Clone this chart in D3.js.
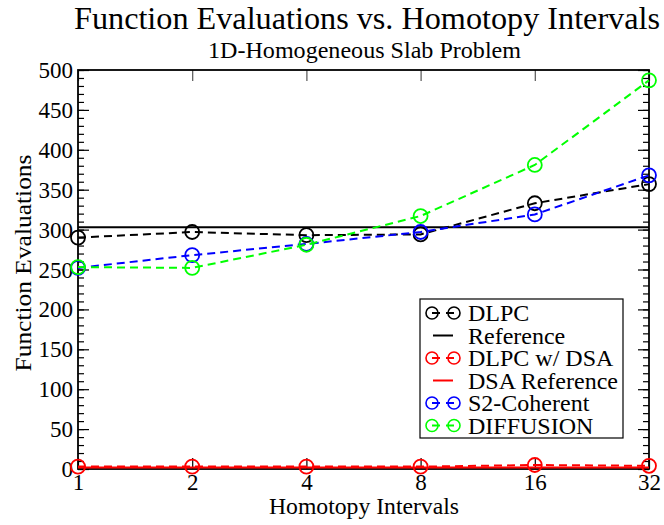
<!DOCTYPE html>
<html>
<head>
<meta charset="utf-8">
<script src="https://cdn.jsdelivr.net/npm/d3@7"></script>
<style>
  body { margin: 0; background: #fff; }
</style>
</head>
<body>
<div id="chart"></div>
<script>
// homotopy intervals (x)
var intervals = [1, 2, 4, 8, 16, 32]

// function evaluations per method
var dlpc      = [290, 297, 293, 294, 333, 357]
var dlpcDsa   = [3, 3, 3, 3, 5, 4]
var s2coh     = [252, 268, 282, 297, 319, 368]
var diffusion = [253, 252, 281, 317, 381, 487]

// reference values (horizontal lines)
var reference    = 303
var dsaReference = 2

var yTicks = [0, 50, 100, 150, 200, 250, 300, 350, 400, 450, 500]

var series = [
  {name: "DLPC", values: dlpc, color: "#000000", marker: true},
  {name: "Reference", ref: reference, color: "#000000", marker: false},
  {name: "DLPC w/ DSA", values: dlpcDsa, color: "#ff0000", marker: true},
  {name: "DSA Reference", ref: dsaReference, color: "#ff0000", marker: false},
  {name: "S2-Coherent", values: s2coh, color: "#0000ff", marker: true},
  {name: "DIFFUSION", values: diffusion, color: "#00ff00", marker: true}
]

var W = 664, H = 525
var margin = {left: 78, right: 649, top: 70, bottom: 469}
var serif = "'Liberation Serif', 'Times New Roman', serif"

var svg = d3.select("#chart").append("svg")
    .attr("width", W)
    .attr("height", H)

var x = d3.scaleLog().base(2)
    .domain([1, 32])
    .range([margin.left, margin.right])

var y = d3.scaleLinear()
    .domain([0, 500])
    .range([margin.bottom, margin.top])

// titles
svg.append("text")
    .attr("x", 74).attr("y", 29)
    .attr("textLength", 586)
    .attr("lengthAdjust", "spacingAndGlyphs")
    .style("font-family", serif)
    .style("font-size", "32px")
    .text("Function Evaluations vs. Homotopy Intervals")

svg.append("text")
    .attr("x", 208).attr("y", 58)
    .attr("textLength", 313)
    .attr("lengthAdjust", "spacingAndGlyphs")
    .style("font-family", serif)
    .style("font-size", "23px")
    .text("1D-Homogeneous Slab Problem")

// minor y ticks, both sides
var minor = d3.range(0, 501, 10)
svg.append("g")
    .attr("transform", "translate(" + margin.left + ",0)")
    .call(d3.axisLeft(y).tickValues(minor).tickSize(-6).tickFormat(""))
svg.append("g")
    .attr("transform", "translate(" + margin.right + ",0)")
    .call(d3.axisRight(y).tickValues(minor).tickSize(-6).tickFormat(""))

// major y ticks
var yAxis = svg.append("g")
    .attr("class", "y-axis")
    .attr("transform", "translate(" + margin.left + ",0)")
    .call(d3.axisLeft(y).tickValues(yTicks).tickSize(-11).tickPadding(5))
yAxis.selectAll("text")
    .style("font-family", serif)
    .style("font-size", "23px")
    .attr("dy", "0.33em")

svg.append("g")
    .attr("transform", "translate(" + margin.right + ",0)")
    .call(d3.axisRight(y).tickValues(yTicks).tickSize(-11).tickFormat(""))

// x ticks, bottom and top
var xAxis = svg.append("g")
    .attr("class", "x-axis")
    .attr("transform", "translate(0," + margin.bottom + ")")
    .call(d3.axisBottom(x).tickValues(intervals).tickSize(-11).tickPadding(4)
      .tickFormat(d3.format("d")))
xAxis.selectAll("text")
    .style("font-family", serif)
    .style("font-size", "23px")
    .attr("dy", "0.75em")

svg.append("g")
    .attr("transform", "translate(0," + margin.top + ")")
    .call(d3.axisTop(x).tickValues(intervals).tickSize(-11).tickFormat(""))
  .selectAll("line").attr("stroke", "#555")

svg.selectAll(".domain").remove()
svg.selectAll(".tick line").attr("stroke-width", 1.2)

// frame
svg.append("rect")
    .attr("x", margin.left).attr("y", margin.top)
    .attr("width", margin.right - margin.left)
    .attr("height", margin.bottom - margin.top)
    .attr("fill", "none")
    .attr("stroke", "#000")
    .attr("stroke-width", 1.8)

// axis labels
svg.append("text")
    .attr("x", 364).attr("y", 514)
    .attr("text-anchor", "middle")
    .attr("textLength", 190)
    .attr("lengthAdjust", "spacingAndGlyphs")
    .style("font-family", serif)
    .style("font-size", "24px")
    .text("Homotopy Intervals")

svg.append("text")
    .attr("transform", "translate(31,263) rotate(-90)")
    .attr("text-anchor", "middle")
    .attr("textLength", 217)
    .attr("lengthAdjust", "spacingAndGlyphs")
    .style("font-family", serif)
    .style("font-size", "24px")
    .text("Function Evaluations")

var line = d3.line()
    .x(function(d, i) { return x(intervals[i]) })
    .y(function(d) { return y(d) })

var plot = svg.append("g").attr("class", "series")

// reference lines first
series.forEach(function(s) {
  if (s.ref === undefined) return
  plot.append("line")
      .attr("x1", x(intervals[0])).attr("x2", x(intervals[intervals.length - 1]))
      .attr("y1", y(s.ref)).attr("y2", y(s.ref))
      .attr("stroke", s.color)
      .attr("stroke-width", 2)
})

series.forEach(function(s) {
  if (s.values === undefined) return
  plot.append("path")
      .attr("d", line(s.values))
      .attr("fill", "none")
      .attr("stroke", s.color)
      .attr("stroke-width", 2)
      .attr("stroke-dasharray", "8,5")
  plot.selectAll(null)
      .data(s.values)
      .enter()
      .append("circle")
      .attr("cx", function(d, i) { return x(intervals[i]) })
      .attr("cy", function(d) { return y(d) })
      .attr("r", 7)
      .attr("fill", "none")
      .attr("stroke", s.color)
      .attr("stroke-width", 1.8)
})

// legend
var lg = svg.append("g").attr("class", "legend")
lg.append("rect")
    .attr("x", 420).attr("y", 299)
    .attr("width", 203).attr("height", 139)
    .attr("fill", "#fff")
    .attr("stroke", "#000")
    .attr("stroke-width", 1.2)

series.forEach(function(s, i) {
  var cy = 313 + i * 22.5
  var g = lg.append("g")
  if (s.marker) {
    g.append("line")
        .attr("x1", 432).attr("x2", 454)
        .attr("y1", cy).attr("y2", cy)
        .attr("stroke", s.color)
        .attr("stroke-width", 2)
        .attr("stroke-dasharray", "8,6")
    g.append("circle").attr("cx", 432).attr("cy", cy).attr("r", 6)
        .attr("fill", "none").attr("stroke", s.color).attr("stroke-width", 1.6)
    g.append("circle").attr("cx", 454).attr("cy", cy).attr("r", 6)
        .attr("fill", "none").attr("stroke", s.color).attr("stroke-width", 1.6)
  } else {
    g.append("line")
        .attr("x1", 433).attr("x2", 453)
        .attr("y1", cy).attr("y2", cy)
        .attr("stroke", s.color)
        .attr("stroke-width", 2)
  }
  g.append("text")
      .attr("x", 468).attr("y", cy)
      .attr("dy", "0.35em")
      .style("font-family", serif)
      .style("font-size", "24px")
      .text(s.name)
})
</script>
</body>
</html>
